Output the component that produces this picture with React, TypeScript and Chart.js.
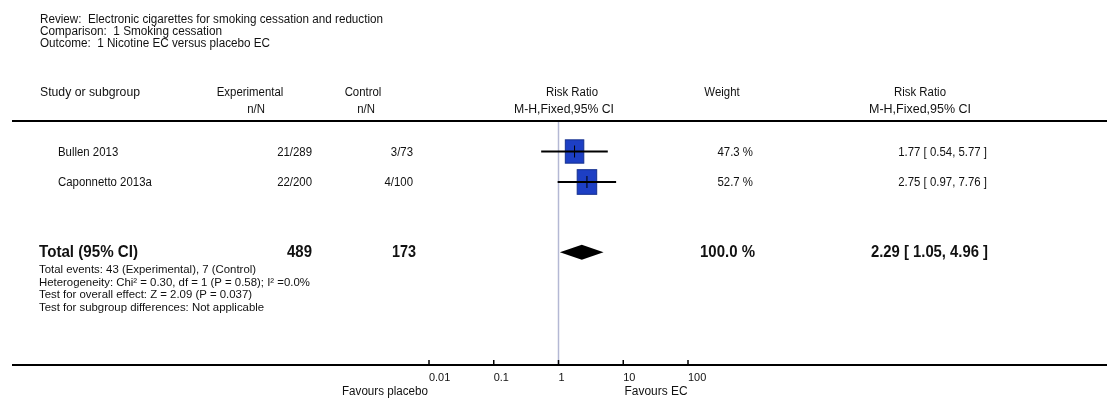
import React, { useEffect, useRef } from "react";
import { Chart, registerables } from "chart.js";

Chart.register(...registerables);

// ---------- data ----------
const reviewLines = [
  "Review:  Electronic cigarettes for smoking cessation and reduction",
  "Comparison:  1 Smoking cessation",
  "Outcome:  1 Nicotine EC versus placebo EC",
];
const studies = ["Bullen 2013", "Caponnetto 2013a"];
const expEvents = ["21/289", "22/200"];
const ctrlEvents = ["3/73", "4/100"];
const riskRatios = [1.77, 2.75];
const ciLower = [0.54, 0.97];
const ciUpper = [5.77, 7.76];
const weights = [47.3, 52.7];

const totalLabel = "Total (95% CI)";
const totalExp = 489;
const totalCtrl = 173;
const totalRR = 2.29;
const totalLower = 1.05;
const totalUpper = 4.96;
const totalWeight = 100.0;

const footnotes = [
  "Total events: 43 (Experimental), 7 (Control)",
  "Heterogeneity: Chi\u00B2 = 0.30, df = 1 (P = 0.58); I\u00B2 =0.0%",
  "Test for overall effect: Z = 2.09 (P = 0.037)",
  "Test for subgroup differences: Not applicable",
];
const axisTicks = [0.01, 0.1, 1, 10, 100];
const axisTickLabels = ["0.01", "0.1", "1", "10", "100"];
const favoursLeft = "Favours placebo";
const favoursRight = "Favours EC";

// ---------- layout (rows in y-scale units) ----------
const studyRows = [1, 2];
const totalRow = 4.3;

const FONT = '"Liberation Sans", Arial, sans-serif';

function txt(
  ctx: CanvasRenderingContext2D,
  s: string,
  x: number,
  y: number,
  size: number,
  align: "left" | "center" | "right" = "left",
  bold = false,
  w?: number,
  scaleX = 0.95
) {
  ctx.save();
  ctx.font = `${bold ? "bold " : ""}${size}px ${FONT}`;
  ctx.textBaseline = "middle";
  ctx.textAlign = "left";
  ctx.fillStyle = "#111";
  const m = ctx.measureText(s).width;
  const sx = w ? w / m : scaleX;
  const dw = m * sx;
  const left = align === "center" ? x - dw / 2 : align === "right" ? x - dw : x;
  ctx.translate(left, y);
  ctx.scale(sx, 1);
  ctx.fillText(s, 0, 0);
  ctx.restore();
}

const forestPlugin = {
  id: "forest",
  beforeDatasetsDraw(chart: any) {
    const { ctx, scales, chartArea } = chart;
    const xs = scales.x;
    const ys = scales.y;
    const x1 = xs.getPixelForValue(1);
    ctx.save();
    ctx.strokeStyle = "#b4b8d4";
    ctx.lineWidth = 1.5;
    ctx.beginPath();
    ctx.moveTo(x1, chartArea.top);
    ctx.lineTo(x1, chartArea.bottom);
    ctx.stroke();
    studies.forEach((_, i) => {
      const cx = xs.getPixelForValue(riskRatios[i]);
      const cy = ys.getPixelForValue(studyRows[i]);
      const f = Math.sqrt(weights[i] / 50);
      const w = 19 * f;
      const h = 24 * f;
      ctx.fillStyle = "#1d3fc4";
      ctx.fillRect(cx - w / 2, cy - h / 2, w, h);
      ctx.strokeStyle = "#15308f";
      ctx.lineWidth = 1;
      ctx.strokeRect(cx - w / 2, cy - h / 2, w, h);
    });
    ctx.restore();
  },
  afterDatasetsDraw(chart: any) {
    const { ctx, scales, chartArea, width } = chart;
    const xs = scales.x;
    const ys = scales.y;
    ctx.save();
    ctx.strokeStyle = "#000";
    ctx.lineWidth = 1;
    studies.forEach((_, i) => {
      const cx = xs.getPixelForValue(riskRatios[i]);
      const cy = ys.getPixelForValue(studyRows[i]);
      ctx.beginPath();
      ctx.moveTo(cx, cy - 6);
      ctx.lineTo(cx, cy + 6);
      ctx.stroke();
    });
    const ty = ys.getPixelForValue(totalRow);
    ctx.fillStyle = "#000";
    ctx.beginPath();
    ctx.moveTo(xs.getPixelForValue(totalLower), ty);
    ctx.lineTo(xs.getPixelForValue(totalRR), ty - 7.5);
    ctx.lineTo(xs.getPixelForValue(totalUpper), ty);
    ctx.lineTo(xs.getPixelForValue(totalRR), ty + 7.5);
    ctx.closePath();
    ctx.fill();

    ctx.strokeStyle = "#000";
    ctx.lineWidth = 2;
    ctx.beginPath();
    ctx.moveTo(12, chartArea.top);
    ctx.lineTo(width, chartArea.top);
    ctx.moveTo(12, chartArea.bottom);
    ctx.lineTo(width, chartArea.bottom);
    ctx.stroke();
    ctx.lineWidth = 1.5;
    axisTicks.forEach((t) => {
      const px = xs.getPixelForValue(t);
      ctx.beginPath();
      ctx.moveTo(px, chartArea.bottom - 5);
      ctx.lineTo(px, chartArea.bottom);
      ctx.stroke();
    });
    ctx.restore();

    axisTicks.forEach((t, i) => {
      txt(ctx, axisTickLabels[i], xs.getPixelForValue(t), chartArea.bottom + 13, 11.5, "left");
    });
    txt(ctx, favoursLeft, 385, chartArea.bottom + 27, 12, "center", false, 86);
    txt(ctx, favoursRight, 656, chartArea.bottom + 27, 12, "center", false, 63);

    const hw = [343, 182, 230];
    reviewLines.forEach((s, i) => txt(ctx, s, 40, 20 + i * 12, 12, "left", false, hw[i]));

    txt(ctx, "Study or subgroup", 40, 93, 12, "left", false, 100);
    txt(ctx, "Experimental", 250, 93, 12, "center");
    txt(ctx, "n/N", 256, 110, 12, "center");
    txt(ctx, "Control", 363, 93, 12, "center");
    txt(ctx, "n/N", 366, 110, 12, "center");
    txt(ctx, "Risk Ratio", 572, 93, 12, "center");
    txt(ctx, "M-H,Fixed,95% CI", 564, 110, 12, "center", false, 100);
    txt(ctx, "Weight", 722, 93, 12, "center");
    txt(ctx, "Risk Ratio", 920, 93, 12, "center");
    txt(ctx, "M-H,Fixed,95% CI", 920, 110, 12, "center", false, 102);

    studies.forEach((s, i) => {
      const y = ys.getPixelForValue(studyRows[i]) + 1;
      txt(ctx, s, 58, y, 12, "left");
      txt(ctx, expEvents[i], 312, y, 12, "right");
      txt(ctx, ctrlEvents[i], 413, y, 12, "right");
      txt(ctx, `${weights[i].toFixed(1)} %`, 753, y, 12, "right");
      txt(
        ctx,
        `${riskRatios[i].toFixed(2)} [ ${ciLower[i].toFixed(2)}, ${ciUpper[i].toFixed(2)} ]`,
        987,
        y,
        12,
        "right"
      );
    });

    txt(ctx, totalLabel, 39, ty, 16, "left", true, 99);
    txt(ctx, String(totalExp), 312, ty, 16, "right", true, 25);
    txt(ctx, String(totalCtrl), 416, ty, 16, "right", true, 24);
    txt(ctx, `${totalWeight.toFixed(1)} %`, 755, ty, 16, "right", true, 55);
    txt(
      ctx,
      `${totalRR.toFixed(2)} [ ${totalLower.toFixed(2)}, ${totalUpper.toFixed(2)} ]`,
      988,
      ty,
      16,
      "right",
      true,
      117
    );

    footnotes.forEach((s, i) =>
      txt(ctx, s, 39, ty + 18 + i * 12.5, 11.5, "left", false, undefined, 0.99)
    );
  },
};

export default function App() {
  const ref = useRef<HTMLCanvasElement | null>(null);
  useEffect(() => {
    if (!ref.current) return;
    const chart = new Chart(ref.current, {
      type: "line",
      data: {
        datasets: studies.map((s, i) => ({
          label: s,
          data: [
            { x: ciLower[i], y: studyRows[i] },
            { x: ciUpper[i], y: studyRows[i] },
          ],
          borderColor: "#000",
          borderWidth: 2.2,
          pointRadius: 0,
          fill: false,
        })),
      },
      options: {
        responsive: false,
        animation: false,
        layout: { padding: { left: 429, right: 419, top: 121, bottom: 38 } },
        scales: {
          x: { type: "logarithmic", min: 0.01, max: 100, display: false },
          y: { type: "linear", min: 0, max: 8, reverse: true, display: false },
        },
        plugins: { legend: { display: false }, tooltip: { enabled: false } },
      },
      plugins: [forestPlugin],
    });
    return () => chart.destroy();
  }, []);
  return (
    <div style={{ position: "fixed", left: 0, top: 0, width: 1107, height: 403, background: "#fff" }}>
      <canvas ref={ref} width={1107} height={403} style={{ display: "block" }} />
    </div>
  );
}
